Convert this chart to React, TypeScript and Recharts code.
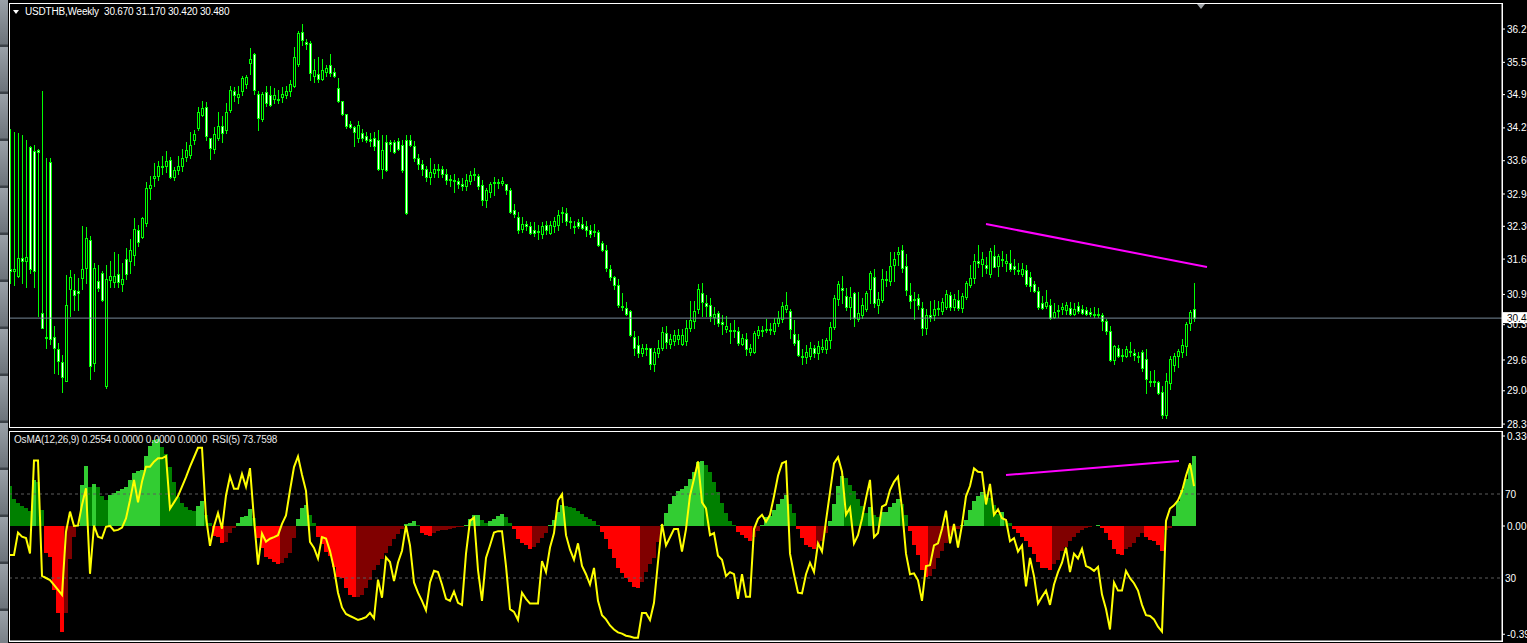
import React from "react";
import { ComposedChart, Bar, Line, XAxis, YAxis, ReferenceLine, Cell } from "recharts";

// USDTHB weekly candles, oldest first
const opens = [
  31.45, 31.42, 31.32, 31.68, 31.61, 33.88, 33.80, 33.82, 30.59, 30.10,
  33.57, 30.10, 29.86, 29.62, 29.24, 31.06, 31.03, 31.01, 31.27, 31.48,
  32.03, 29.59, 31.22, 31.38, 29.13, 31.23, 31.20, 31.36, 31.15, 31.65,
  31.62, 31.73, 32.23, 32.09, 32.36, 33.06, 33.25, 33.29, 33.48, 33.49,
  33.61, 33.27, 33.41, 33.49, 33.68, 33.71, 34.02, 34.25, 34.51, 34.66,
  34.05, 33.84, 34.06, 34.29, 34.20, 34.61, 34.98, 34.86, 34.98, 35.12,
  35.53, 35.71, 34.93, 34.43, 34.96, 34.90, 34.82, 34.83, 34.86, 34.91,
  34.98, 35.09, 35.51, 36.15, 35.96, 35.93, 35.28, 35.32, 35.22, 35.36,
  35.50, 35.36, 35.04, 34.79, 34.53, 34.33, 34.27, 34.06, 34.14, 34.08,
  34.04, 34.06, 34.02, 33.44, 33.98, 33.98, 33.98, 34.00, 33.92, 34.02,
  34.02, 33.90, 33.66, 33.53, 33.44, 33.27, 33.35, 33.43, 33.44, 33.33,
  33.23, 33.21, 33.19, 33.13, 33.09, 33.19, 33.31, 33.29, 33.11, 32.82,
  32.97, 33.15, 33.16, 33.16, 33.13, 33.02, 32.62, 32.48, 32.25, 32.35,
  32.31, 32.22, 32.21, 32.15, 32.33, 32.17, 32.31, 32.33, 32.56, 32.56,
  32.40, 32.31, 32.38, 32.35, 32.31, 32.22, 32.19, 32.19, 31.97, 31.84,
  31.46, 31.30, 31.14, 30.73, 30.69, 30.62, 30.10, 29.94, 29.78, 29.88,
  29.88, 29.57, 29.78, 29.88, 30.18, 29.96, 30.02, 30.06, 29.97, 30.02,
  30.28, 30.43, 30.67, 30.97, 30.77, 30.75, 30.51, 30.59, 30.40, 30.27,
  30.24, 30.23, 30.22, 29.96, 30.06, 29.81, 29.81, 30.14, 30.24, 30.26,
  30.25, 30.22, 30.38, 30.46, 30.67, 30.62, 30.16, 30.04, 29.73, 29.70,
  29.73, 29.88, 29.78, 29.86, 29.86, 30.04, 30.30, 30.85, 31.08, 30.92,
  30.71, 30.97, 30.46, 30.54, 30.67, 31.05, 31.30, 30.75, 30.84, 31.26,
  31.22, 31.54, 31.76, 31.83, 31.52, 30.93, 30.85, 30.87, 30.69, 30.28,
  30.54, 30.54, 30.69, 30.62, 30.71, 30.93, 30.71, 30.83, 30.69, 30.89,
  31.13, 31.27, 31.62, 31.56, 31.54, 31.36, 31.71, 31.52, 31.66, 31.57,
  31.58, 31.52, 31.44, 31.36, 31.44, 31.30, 31.16, 31.01, 30.77, 30.73,
  30.75, 30.51, 30.65, 30.67, 30.65, 30.69, 30.57, 30.73, 30.67, 30.65,
  30.61, 30.57, 30.54, 30.54, 30.43, 30.22, 29.65, 29.89, 29.74, 29.73,
  29.83, 29.78, 29.73, 29.81, 29.67, 29.24, 29.24, 29.21, 29.02, 28.56,
  29.19, 29.55, 29.73, 29.80, 29.92, 30.38, 30.67,
];

const highs = [
  34.22, 34.17, 34.14, 34.10, 34.02, 33.90, 33.92, 33.84, 34.98, 33.66,
  33.66, 30.32, 29.98, 29.75, 31.34, 31.44, 31.36, 31.27, 32.31, 32.29,
  32.10, 31.58, 31.54, 31.42, 31.54, 31.62, 31.79, 31.75, 31.57, 31.87,
  32.05, 32.46, 32.33, 32.48, 33.17, 33.29, 33.55, 33.59, 33.70, 33.79,
  33.68, 33.47, 33.70, 33.84, 33.98, 34.17, 34.20, 34.67, 34.79, 34.77,
  34.06, 34.27, 34.57, 34.49, 34.74, 35.08, 35.06, 35.09, 35.28, 35.30,
  35.83, 35.73, 34.98, 34.96, 35.09, 35.08, 35.04, 35.01, 35.06, 35.09,
  35.20, 35.85, 36.17, 36.30, 36.01, 35.97, 35.61, 35.66, 35.61, 35.50,
  35.71, 35.44, 35.24, 34.79, 34.53, 34.39, 34.28, 34.39, 34.22, 34.17,
  34.14, 34.17, 34.20, 34.10, 34.10, 34.02, 34.02, 34.06, 34.02, 34.10,
  34.10, 34.00, 33.74, 33.61, 33.49, 33.66, 33.53, 33.53, 33.49, 33.44,
  33.31, 33.33, 33.25, 33.25, 33.33, 33.39, 33.45, 33.33, 33.21, 33.05,
  33.17, 33.27, 33.23, 33.27, 33.14, 33.05, 32.74, 32.58, 32.48, 32.40,
  32.38, 32.38, 32.33, 32.38, 32.41, 32.41, 32.48, 32.62, 32.68, 32.66,
  32.48, 32.41, 32.44, 32.48, 32.40, 32.33, 32.35, 32.23, 32.01, 31.92,
  31.54, 31.32, 31.26, 30.97, 30.79, 30.65, 30.22, 30.12, 29.97, 29.96,
  29.89, 29.88, 30.04, 30.30, 30.32, 30.16, 30.24, 30.27, 30.27, 30.45,
  30.81, 30.81, 31.16, 31.18, 30.93, 30.87, 30.71, 30.62, 30.54, 30.53,
  30.38, 30.45, 30.30, 30.16, 30.18, 29.97, 30.22, 30.32, 30.32, 30.46,
  30.38, 30.49, 30.62, 30.79, 30.99, 30.67, 30.45, 30.16, 29.86, 29.94,
  30.00, 29.94, 30.02, 30.06, 30.08, 30.40, 30.93, 31.22, 31.32, 31.08,
  31.10, 30.99, 30.99, 30.87, 31.01, 31.42, 31.46, 30.99, 31.46, 31.42,
  31.79, 31.79, 31.89, 31.92, 31.75, 31.18, 30.99, 30.95, 30.79, 30.67,
  30.81, 30.83, 30.81, 30.87, 31.03, 30.99, 30.95, 31.03, 30.97, 31.22,
  31.54, 31.75, 31.92, 31.79, 31.70, 31.87, 31.92, 31.76, 31.81, 31.75,
  31.83, 31.65, 31.57, 31.57, 31.54, 31.40, 31.22, 31.10, 30.92, 31.03,
  30.85, 30.77, 30.75, 30.77, 30.79, 30.79, 30.77, 30.79, 30.75, 30.70,
  30.69, 30.70, 30.69, 30.59, 30.46, 30.32, 29.94, 29.94, 29.86, 29.92,
  30.00, 29.86, 29.81, 29.84, 29.86, 29.43, 29.45, 29.24, 29.13, 29.40,
  29.73, 29.79, 29.86, 30.06, 30.41, 30.65, 31.17,
];

const lows = [
  31.18, 31.14, 31.30, 31.18, 31.10, 31.38, 31.10, 30.53, 30.28, 29.88,
  29.96, 29.39, 29.37, 29.02, 29.24, 30.53, 30.65, 30.65, 31.06, 31.18,
  29.27, 29.43, 31.01, 30.81, 29.10, 31.10, 31.10, 31.10, 31.01, 31.26,
  31.38, 31.54, 31.91, 32.07, 32.31, 32.84, 33.09, 33.21, 33.33, 33.37,
  33.25, 33.21, 33.33, 33.39, 33.60, 33.66, 33.94, 34.20, 34.49, 34.02,
  33.64, 33.76, 34.02, 33.98, 34.14, 34.57, 34.79, 34.75, 34.90, 35.04,
  35.32, 34.93, 34.20, 34.39, 34.69, 34.69, 34.75, 34.75, 34.77, 34.85,
  34.88, 35.06, 35.48, 35.89, 35.81, 35.20, 35.16, 35.16, 35.20, 35.28,
  35.28, 35.26, 34.77, 34.51, 34.25, 34.25, 33.90, 33.98, 34.00, 33.98,
  33.90, 33.82, 33.41, 33.25, 33.39, 33.79, 33.76, 33.82, 33.37, 32.54,
  33.90, 33.60, 33.44, 33.31, 33.19, 33.14, 33.27, 33.27, 33.27, 33.14,
  33.09, 32.98, 33.06, 33.01, 33.01, 33.13, 33.21, 33.03, 32.72, 32.68,
  32.88, 32.92, 33.06, 33.11, 32.95, 32.56, 32.48, 32.17, 32.19, 32.23,
  32.14, 32.11, 32.05, 32.07, 32.14, 32.15, 32.19, 32.22, 32.38, 32.33,
  32.27, 32.17, 32.27, 32.25, 32.11, 32.09, 32.11, 31.91, 31.81, 31.42,
  31.24, 31.06, 30.71, 30.65, 30.54, 30.12, 29.75, 29.70, 29.73, 29.75,
  29.48, 29.43, 29.71, 29.84, 29.89, 29.88, 29.94, 29.96, 29.94, 29.94,
  30.22, 30.28, 30.59, 30.53, 30.53, 30.43, 30.36, 30.32, 30.16, 30.20,
  29.99, 30.10, 29.94, 29.94, 29.75, 29.75, 29.78, 30.08, 30.12, 30.20,
  30.16, 30.16, 30.32, 30.40, 30.61, 30.08, 29.94, 29.73, 29.57, 29.59,
  29.67, 29.70, 29.67, 29.81, 29.78, 29.88, 30.27, 30.75, 30.77, 30.65,
  30.46, 30.32, 30.43, 30.49, 30.62, 30.77, 30.71, 30.59, 30.79, 31.11,
  31.14, 31.22, 31.54, 31.40, 30.93, 30.69, 30.46, 30.67, 30.14, 30.16,
  30.43, 30.45, 30.54, 30.57, 30.67, 30.65, 30.65, 30.65, 30.61, 30.85,
  31.10, 31.18, 31.50, 31.32, 31.38, 31.30, 31.49, 31.32, 31.52, 31.42,
  31.42, 31.36, 31.36, 31.32, 31.11, 31.01, 30.99, 30.67, 30.67, 30.69,
  30.46, 30.49, 30.51, 30.57, 30.57, 30.54, 30.54, 30.59, 30.57, 30.54,
  30.53, 30.51, 30.51, 30.24, 30.16, 29.63, 29.57, 29.70, 29.63, 29.70,
  29.73, 29.65, 29.62, 29.43, 29.00, 29.14, 29.14, 28.97, 28.51, 28.51,
  29.08, 29.43, 29.51, 29.71, 29.75, 30.24, 30.42,
];

const closes = [
  31.42, 31.46, 31.68, 31.62, 31.70, 31.46, 31.42, 33.78, 30.28, 30.08,
  30.06, 29.88, 29.63, 29.32, 30.75, 31.30, 30.93, 30.98, 31.46, 32.07,
  29.53, 31.48, 31.08, 30.83, 31.26, 31.32, 31.31, 31.20, 31.26, 31.35,
  31.83, 32.25, 31.99, 32.46, 33.06, 33.11, 33.29, 33.49, 33.49, 33.60,
  33.27, 33.41, 33.49, 33.66, 33.82, 33.92, 34.12, 34.57, 34.65, 34.08,
  33.86, 34.12, 34.28, 34.15, 34.57, 35.01, 34.90, 34.93, 35.24, 35.26,
  35.61, 35.00, 34.44, 34.93, 34.74, 34.71, 34.91, 34.80, 34.93, 34.98,
  35.12, 35.65, 36.13, 35.99, 35.91, 35.34, 35.39, 35.22, 35.39, 35.44,
  35.34, 35.28, 34.79, 34.53, 34.28, 34.27, 34.17, 34.31, 34.06, 34.02,
  34.00, 33.90, 33.44, 33.82, 33.41, 33.94, 33.78, 33.84, 33.41, 32.56,
  33.92, 33.66, 33.53, 33.44, 33.27, 33.37, 33.44, 33.42, 33.33, 33.21,
  33.21, 33.20, 33.13, 33.10, 33.21, 33.31, 33.33, 33.09, 32.82, 33.01,
  33.13, 33.17, 33.18, 33.19, 33.01, 32.58, 32.54, 32.23, 32.35, 32.30,
  32.17, 32.17, 32.18, 32.31, 32.22, 32.33, 32.40, 32.52, 32.58, 32.40,
  32.38, 32.30, 32.31, 32.27, 32.22, 32.15, 32.21, 31.92, 31.83, 31.48,
  31.30, 31.14, 30.75, 30.71, 30.57, 30.14, 29.88, 29.78, 29.88, 29.87,
  29.57, 29.81, 29.89, 30.20, 30.00, 30.06, 30.14, 30.14, 30.14, 30.28,
  30.45, 30.62, 31.05, 30.79, 30.73, 30.53, 30.57, 30.38, 30.36, 30.32,
  30.23, 30.24, 29.99, 30.08, 29.86, 29.88, 30.18, 30.24, 30.22, 30.25,
  30.26, 30.38, 30.49, 30.73, 30.75, 30.27, 29.99, 29.75, 29.71, 29.80,
  29.88, 29.78, 29.92, 29.90, 30.04, 30.30, 30.87, 31.16, 31.03, 30.71,
  30.89, 30.49, 30.59, 30.75, 30.97, 31.38, 30.77, 30.85, 31.26, 31.24,
  31.52, 31.66, 31.79, 31.48, 31.03, 30.81, 30.84, 30.75, 30.28, 30.54,
  30.51, 30.67, 30.67, 30.79, 30.95, 30.71, 30.85, 30.69, 30.92, 31.18,
  31.27, 31.62, 31.58, 31.65, 31.48, 31.81, 31.50, 31.71, 31.64, 31.62,
  31.46, 31.46, 31.42, 31.46, 31.16, 31.11, 31.01, 30.70, 30.69, 30.79,
  30.48, 30.61, 30.64, 30.70, 30.75, 30.57, 30.67, 30.62, 30.59, 30.57,
  30.57, 30.54, 30.57, 30.43, 30.22, 29.65, 29.92, 29.73, 29.73, 29.86,
  29.81, 29.74, 29.70, 29.49, 29.27, 29.23, 29.21, 29.00, 28.56, 29.23,
  29.67, 29.73, 29.83, 29.94, 30.36, 30.61, 30.48,
];

// OsMA(12,26,9) histogram, one value per week
const osma = [
  0.147, 0.099, 0.083, 0.073, 0.065, 0.056, 0.17, 0.16, 0.06, -0.10,
  -0.115, -0.235, -0.32, -0.388, -0.32, -0.12, -0.04, 0.005, 0.15, 0.22,
  0.144, 0.154, 0.144, 0.11, 0.095, 0.114, 0.122, 0.13, 0.134, 0.144,
  0.169, 0.193, 0.2, 0.205, 0.257, 0.293, 0.315, 0.32, 0.29, 0.265,
  0.218, 0.163, 0.108, 0.086, 0.068, 0.059, 0.056, 0.073, 0.093, 0.04,
  0.012, -0.035, -0.042, -0.064, -0.057, -0.027, -0.009, 0.012, 0.032, 0.038,
  0.062, 0.03, -0.045, -0.082, -0.112, -0.122, -0.131, -0.139, -0.137, -0.119,
  -0.10, -0.045, 0.024, 0.065, 0.077, 0.04, 0.01, -0.039, -0.066, -0.094,
  -0.11, -0.149, -0.186, -0.192, -0.229, -0.253, -0.262, -0.26, -0.253, -0.229,
  -0.198, -0.161, -0.143, -0.122, -0.10, -0.073, -0.049, -0.029, -0.011, 0.006,
  0.012, 0.017, 0.005, -0.026, -0.033, -0.035, -0.026, -0.02, -0.016, -0.014,
  -0.011, -0.008, -0.005, -0.002, 0.002, 0.026, 0.041, 0.042, 0.023, 0.012,
  0.017, 0.027, 0.038, 0.044, 0.032, 0.012, -0.011, -0.048, -0.063, -0.071,
  -0.083, -0.078, -0.063, -0.044, -0.026, 0.002, 0.023, 0.05, 0.077, 0.074,
  0.071, 0.065, 0.056, 0.044, 0.032, 0.026, 0.017, 0.005, -0.023, -0.048,
  -0.086, -0.119, -0.153, -0.173, -0.191, -0.206, -0.224, -0.227, -0.206, -0.168,
  -0.138, -0.119, -0.06, 0.005, 0.047, 0.08, 0.11, 0.128, 0.137, 0.147,
  0.173, 0.197, 0.233, 0.238, 0.223, 0.197, 0.162, 0.125, 0.083, 0.047,
  0.017, 0.002, -0.023, -0.033, -0.044, -0.056, -0.041, -0.02, 0.005, 0.032,
  0.038, 0.057, 0.08, 0.098, 0.113, 0.08, 0.047, -0.011, -0.045, -0.071,
  -0.078, -0.086, -0.074, -0.056, -0.026, 0.017, 0.08, 0.147, 0.182, 0.177,
  0.152, 0.128, 0.098, 0.072, 0.047, 0.071, 0.042, 0.032, 0.05, 0.053,
  0.068, 0.083, 0.098, 0.08, 0.042, -0.018, -0.071, -0.108, -0.161, -0.188,
  -0.183, -0.158, -0.119, -0.093, -0.063, -0.033, -0.018, -0.011, 0.005, 0.023,
  0.057, 0.092, 0.11, 0.125, 0.117, 0.102, 0.077, 0.045, 0.05, 0.02,
  0.012, -0.011, -0.026, -0.041, -0.056, -0.078, -0.101, -0.131, -0.153, -0.155,
  -0.161, -0.138, -0.123, -0.093, -0.078, -0.056, -0.041, -0.026, -0.014, -0.008,
  -0.004, -0.001, 0.003, -0.008, -0.026, -0.053, -0.086, -0.101, -0.108, -0.086,
  -0.078, -0.063, -0.041, -0.026, -0.041, -0.053, -0.056, -0.068, -0.093, -0.014,
  -0.006, 0.038, 0.092, 0.132, 0.173, 0.225, 0.2554,
];

// RSI(5)
const rsi = [
  41, 41, 51.6, 49.7, 49, 41.7, 86, 86, 31, 30,
  29, 26.7, 24.3, 22, 52, 61.6, 54.8, 55, 64.8, 72.7,
  32, 55, 49.7, 49, 54.4, 54.8, 52.5, 52.9, 54, 58.4,
  67, 76.7, 66, 75.9, 83, 83, 85.4, 87, 87, 88,
  63, 66, 69, 73.5, 78, 83, 87.5, 92, 92, 59,
  45.3, 54.7, 61, 53.5, 69.3, 78.4, 72.5, 72.5, 79.6, 73.4,
  82.3, 58, 36.4, 51.2, 47.3, 48.7, 49.5, 50.4, 55.8, 59.8,
  71.8, 82.8, 87.9, 79.2, 71.5, 47.2, 44.3, 39.3, 49.5, 48.8,
  42.8, 34.4, 23, 16, 12.9, 11.9, 11, 10, 10.6, 11.3,
  13.4, 10.8, 29.2, 20.6, 39.8, 37.6, 28.5, 37.4, 43, 54.9,
  45.5, 27.9, 23, 19.1, 14.6, 27.9, 33.4, 32.8, 26.9, 20.1,
  19.1, 23.6, 18.2, 17.2, 41.6, 57.2, 58.8, 33.8, 19.1, 39.6,
  45.5, 51.7, 52.3, 52.3, 35.7, 15.2, 13.9, 10, 23, 20.1,
  17.8, 17.8, 17.8, 38.1, 32.8, 44.5, 51.4, 67, 69.9, 50.4,
  43.5, 38.7, 46.5, 35.7, 31.8, 26.9, 34.8, 19.1, 12.3, 10.3,
  7.4, 5.5, 4.1, 3.5, 2.5, 2.1, 1.6, 1.6, 13.3, 13.3,
  10, 18.2, 37.7, 55.7, 45.5, 49.4, 53.3, 53.3, 42.6, 53.3,
  69.3, 77.1, 85.5, 66, 63.1, 50.4, 51.4, 40.6, 38.7, 30.9,
  32.8, 31.8, 20.1, 31.8, 21.1, 21.1, 53.3, 58.2, 60.1, 56.8,
  60.1, 68.9, 78.7, 84.6, 85.5, 41.6, 31.8, 23, 22.7, 31.8,
  37.3, 32.8, 46.5, 42.6, 57.2, 70.9, 84.6, 87.5, 80.6, 60.1,
  63.5, 46.5, 50.4, 58.2, 68, 76.7, 49.4, 51.4, 64, 65,
  71.9, 75.8, 78.3, 63.1, 41.6, 31.8, 32.2, 28.9, 19.1, 35.7,
  36.1, 45.5, 46.5, 53.3, 62.1, 46.5, 55.7, 44.5, 55.3, 68.9,
  73.8, 82.2, 80.6, 80.3, 65, 74.8, 60.1, 62.7, 58.5, 57.6,
  47.5, 49, 42.6, 45.5, 26, 39.6, 30.9, 17.8, 21.1, 24,
  17.2, 26.9, 32.8, 37.3, 44.5, 32.8, 41.6, 39.3, 43.9, 35.7,
  34.8, 33.4, 35.3, 22.1, 15.2, 5.5, 27.9, 24, 24, 33.4,
  29.9, 27.5, 24, 17.2, 12.3, 11.9, 10.3, 6.8, 4.5, 57.2,
  63.1, 64.6, 67, 71.3, 78.7, 84.6, 73.76,
];

const priceTicks = [36.21, 35.55, 34.91, 34.25, 33.6, 32.94, 32.3, 31.65, 30.95, 30.35, 29.65, 29.04, 28.38];
const osmaTicks = [0.33, 0, -0.397];
const osmaTickLabels = ["0.330", "0.00", "-0.397"];
const rsiLevels = [70, 30];
const timeTicks = [16, 32, 48, 64, 80, 96, 112, 128, 144, 160, 176, 192, 208, 224, 240, 256, 272, 288, 304, 320, 336, 352, 368];
const lastBid = 30.48;
const priceTrend = [{ x: 244, y: 32.345 }, { x: 299.25, y: 31.493 }];
const osmaTrend = [{ x: 249, y: 0.187 }, { x: 292.25, y: 0.238 }];

const candles = closes.map((c, i) => ({
  i,
  open: opens[i],
  high: highs[i],
  low: lows[i],
  close: c,
  range: [lows[i], highs[i]],
}));

const indicator = osma.map((v, i) => ({ i, osma: v, rsi: rsi[i] }));

const histColor = (i: number) => {
  const v = osma[i];
  const prev = i > 0 ? osma[i - 1] : v + 1;
  if (v >= 0) return v > prev ? "#32cd32" : "#008000";
  return v < prev ? "#ff0000" : "#800000";
};

const FONT = '"Liberation Sans", Arial, sans-serif';
const X_DOMAIN: [number, number] = [-0.25, 373];

const Candle = (props: any) => {
  const { x, y, width, height, payload } = props;
  if (x == null || y == null || !payload) return null;
  const { open, close, high, low } = payload;
  const top = Math.min(y, y + height);
  const h = Math.abs(height);
  const k = high > low ? h / (high - low) : 0;
  const py = (p: number) => top + (high - p) * k;
  const cx = Math.round(x + width / 2);
  const bTop = Math.round(py(Math.max(open, close)));
  const bBot = Math.round(py(Math.min(open, close)));
  const bear = close < open;
  return (
    <g>
      <line x1={cx + 0.5} x2={cx + 0.5} y1={Math.round(top)} y2={Math.round(top + h) + 1} stroke="#00ff00" strokeWidth={1} />
      <rect
        x={cx - 0.5}
        y={bTop + 0.5}
        width={2}
        height={Math.max(bBot - bTop, 1)}
        fill={bear ? "#ffffff" : "#000000"}
        stroke="#00ff00"
        strokeWidth={1}
      />
    </g>
  );
};

// solid 4px column, snapped to whole pixels so neighbours touch
const HistBar = (props: any) => {
  const { x, y, width, height, fill } = props;
  if (x == null || y == null) return null;
  const cx = Math.round(x + width / 2);
  const t = Math.round(Math.min(y, y + height));
  const b = Math.round(Math.max(y, y + height));
  if (b - t < 1) return null;
  return <rect x={cx - 2} y={t} width={4} height={b - t} fill={fill} shapeRendering="crispEdges" />;
};

const BidTag = (props: any) => {
  const vb = props.viewBox || {};
  const right = vb.x + vb.width;
  return (
    <g>
      <rect x={right + 1} y={vb.y - 6} width={30} height={11} fill="#ffffff" />
      <text x={right + 5} y={vb.y} dy="0.35em" fontSize={10} fontFamily={FONT} fill="#000000">
        {lastBid.toFixed(2)}
      </text>
    </g>
  );
};

const LevelTag = (text: string) => (props: any) => {
  const vb = props.viewBox || {};
  return (
    <text x={vb.x + vb.width + 3} y={vb.y} dy="0.35em" fontSize={10} fontFamily={FONT} fill="#ffffff">
      {text}
    </text>
  );
};

const axisTick = { fill: "#ffffff", fontSize: 10, fontFamily: FONT };

export default function App() {
  return (
    <div style={{ position: "fixed", left: 0, top: 0, width: 1527, height: 643, background: "#000", overflow: "hidden" }}>
      {/* terminal side strip */}
      <div
        style={{
          position: "absolute",
          left: 0,
          top: 0,
          width: 8,
          height: 643,
          background: "repeating-linear-gradient(180deg, #9aa1a8 0px, #6d747b 44px, #3c4248 45px, #3c4248 47px)",
        }}
      />

      <div style={{ position: "absolute", left: 0, top: 0 }}>
        <ComposedChart width={1527} height={431} data={candles} margin={{ top: 3, right: 0, bottom: 4, left: 9 }}>
          <XAxis type="number" dataKey="i" domain={X_DOMAIN} allowDataOverflow hide />
          <YAxis
            orientation="right"
            width={25}
            domain={[28.322, 36.726]}
            allowDataOverflow
            ticks={priceTicks}
            interval={0}
            tickFormatter={(v: number) => v.toFixed(2)}
            tick={axisTick}
            tickSize={3}
            tickMargin={2}
            axisLine={{ stroke: "#ffffff" }}
            tickLine={{ stroke: "#ffffff" }}
          />
          <ReferenceLine y={lastBid} stroke="#778899" strokeWidth={1} label={<BidTag />} />
          <Bar dataKey="range" barSize={4} shape={<Candle />} isAnimationActive={false} />
          <ReferenceLine segment={priceTrend} stroke="#ff00ff" strokeWidth={2} ifOverflow="visible" />
        </ComposedChart>
      </div>

      <div style={{ position: "absolute", left: 0, top: 429 }}>
        <ComposedChart width={1527} height={214} data={indicator} margin={{ top: 2, right: 0, bottom: 0, left: 9 }}>
          <XAxis
            type="number"
            dataKey="i"
            domain={X_DOMAIN}
            allowDataOverflow
            ticks={timeTicks}
            height={2}
            tick={false}
            tickSize={3}
            axisLine={{ stroke: "#ffffff" }}
            tickLine={{ stroke: "#ffffff" }}
          />
          <YAxis
            yAxisId="osma"
            orientation="right"
            width={25}
            domain={[-0.4217, 0.3484]}
            allowDataOverflow
            ticks={osmaTicks}
            interval={0}
            tickFormatter={(v: number) => osmaTickLabels[osmaTicks.indexOf(v)] ?? String(v)}
            tick={axisTick}
            tickSize={3}
            tickMargin={2}
            axisLine={{ stroke: "#ffffff" }}
            tickLine={{ stroke: "#ffffff" }}
          />
          <YAxis yAxisId="rsi" domain={[0, 100]} allowDataOverflow hide />
          {rsiLevels.map((lv) => (
            <ReferenceLine
              key={lv}
              yAxisId="rsi"
              y={lv}
              stroke="#5c5c5c"
              strokeDasharray="3 3"
              label={LevelTag(String(lv))}
            />
          ))}
          <Bar yAxisId="osma" dataKey="osma" barSize={4} shape={<HistBar />} isAnimationActive={false}>
            {indicator.map((d) => (
              <Cell key={d.i} fill={histColor(d.i)} />
            ))}
          </Bar>
          <Line
            yAxisId="rsi"
            type="linear"
            dataKey="rsi"
            stroke="#ffff00"
            strokeWidth={2}
            dot={false}
            isAnimationActive={false}
          />
          <ReferenceLine yAxisId="osma" segment={osmaTrend} stroke="#ff00ff" strokeWidth={2} ifOverflow="visible" />
        </ComposedChart>
      </div>

      {/* panel frames */}
      <div style={{ position: "absolute", left: 9, top: 3, width: 1494, height: 425, border: "1px solid #fff", boxSizing: "border-box", pointerEvents: "none" }} />
      <div style={{ position: "absolute", left: 9, top: 431, width: 1494, height: 211, border: "1px solid #fff", boxSizing: "border-box", pointerEvents: "none" }} />

      {/* chart shift marker */}
      <div style={{ position: "absolute", left: 1197, top: 4, width: 0, height: 0, borderLeft: "4px solid transparent", borderRight: "4px solid transparent", borderTop: "5px solid #a0a4a8" }} />

      {/* titles */}
      <div style={{ position: "absolute", left: 13, top: 10, width: 0, height: 0, borderLeft: "3px solid transparent", borderRight: "3px solid transparent", borderTop: "4px solid #fff" }} />
      <div style={{ position: "absolute", left: 25, top: 7, color: "#fff", font: `10px/10px ${FONT}`, whiteSpace: "pre", letterSpacing: "-0.2px" }}>
        {"USDTHB,Weekly  30.670 31.170 30.420 30.480"}
      </div>
      <div style={{ position: "absolute", left: 14, top: 435, color: "#e8e8e8", font: `10px/10px ${FONT}`, whiteSpace: "pre", letterSpacing: "-0.2px" }}>
        {"OsMA(12,26,9) 0.2554 0.0000 0.0000 0.0000  RSI(5) 73.7598"}
      </div>
    </div>
  );
}
